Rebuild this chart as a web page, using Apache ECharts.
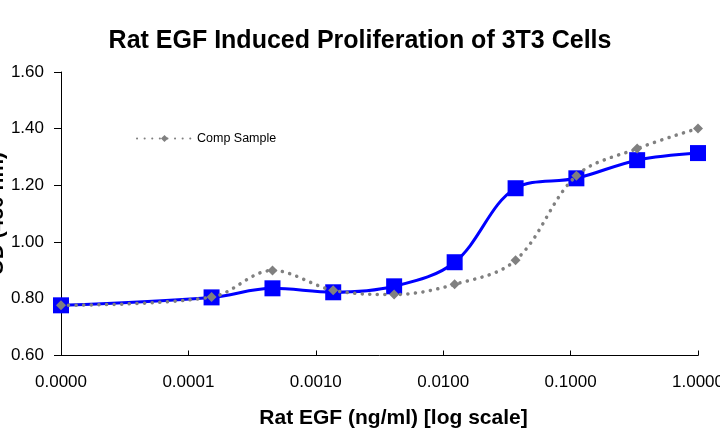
<!DOCTYPE html>
<html>
<head>
<meta charset="utf-8">
<script src="https://cdn.jsdelivr.net/npm/echarts@6/dist/echarts.min.js"></script>
<style>
html,body{margin:0;padding:0;background:#fff;}
#chart{width:720px;height:447px;}
</style>
</head>
<body>
<div id="chart"></div>
<script>
// Concentrations (ng/ml); lowest point is the zero-dose control plotted at 1e-5
var concentrations = [0.00001, 0.000152, 0.000457, 0.00137, 0.00412, 0.0123, 0.037, 0.111, 0.333, 1.0];
var ratEGF = [0.777, 0.805, 0.837, 0.823, 0.844, 0.929, 1.190, 1.225, 1.289, 1.314];
var compSample = [0.777, 0.806, 0.900, 0.830, 0.815, 0.851, 0.936, 1.234, 1.330, 1.401];
var yTicks = [0.60, 0.80, 1.00, 1.20, 1.40, 1.60];

var font = 'Liberation Sans, Arial, sans-serif';
function pairs(xs, ys){ return xs.map(function(x,i){ return [x, ys[i]]; }); }

var chart = echarts.init(document.getElementById('chart'), null, {renderer:'canvas'});
chart.setOption({
  animation: false,
  backgroundColor: '#ffffff',
  title: {
    text: 'Rat EGF Induced Proliferation of 3T3 Cells',
    left: 'center',
    top: 24,
    textStyle: {fontFamily: font, fontSize: 25, fontWeight: 'bold', color: '#000'}
  },
  legend: {
    data: ['Comp Sample'],
    left: 131,
    top: 127,
    itemWidth: 55,
    itemHeight: 9,
    itemGap: 5,
    textStyle: {fontFamily: font, fontSize: 12.5, color: '#000'}
  },
  grid: {left: 61, right: 22, top: 72, bottom: 91.5, containLabel: false, outerBoundsMode: 'none'},
  xAxis: {
    type: 'log',
    logBase: 10,
    min: 0.00001,
    max: 1,
    name: 'Rat EGF (ng/ml) [log scale]',
    nameLocation: 'middle',
    nameGap: 52,
    nameMoveOverlap: false,
    nameTextStyle: {fontFamily: font, fontSize: 21, fontWeight: 'bold', color: '#000', padding: [0, 0, 0, 28]},
    axisLine: {lineStyle: {color: '#000', width: 1}},
    axisTick: {inside: true, length: 5, lineStyle: {color: '#000'}},
    minorTick: {show: false},
    splitLine: {show: false},
    axisLabel: {
      fontFamily: font, fontSize: 17, color: '#000', margin: 18,
      formatter: function(v){ return Number(v).toFixed(4); }
    }
  },
  yAxis: {
    type: 'value',
    min: yTicks[0],
    max: yTicks[yTicks.length-1],
    interval: 0.2,
    name: 'OD (450 nm)',
    nameLocation: 'middle',
    nameGap: 53,
    nameRotate: 90,
    nameMoveOverlap: false,
    nameTextStyle: {fontFamily: font, fontSize: 21, fontWeight: 'bold', color: '#000'},
    axisLine: {show: true, lineStyle: {color: '#000', width: 1}},
    axisTick: {show: true, length: 7, lineStyle: {color: '#000'}},
    splitLine: {show: false},
    axisLabel: {
      fontFamily: font, fontSize: 17, color: '#000', margin: 17,
      formatter: function(v){ return v.toFixed(2); }
    }
  },
  series: [
    {
      name: 'Rat EGF',
      type: 'line',
      data: pairs(concentrations, ratEGF),
      smooth: 0.35,
      symbol: 'rect',
      symbolSize: 16,
      lineStyle: {color: '#0000ff', width: 3},
      itemStyle: {color: '#0000ff'},
      z: 2
    },
    {
      name: 'Comp Sample',
      type: 'line',
      data: pairs(concentrations, compSample),
      smooth: 0.35,
      symbol: 'diamond',
      symbolSize: 10,
      lineStyle: {color: '#808080', width: 3.5, type: [0.1, 7.5], cap: 'round'},
      itemStyle: {color: '#808080'},
      z: 3
    }
  ]
});
</script>
</body>
</html>
